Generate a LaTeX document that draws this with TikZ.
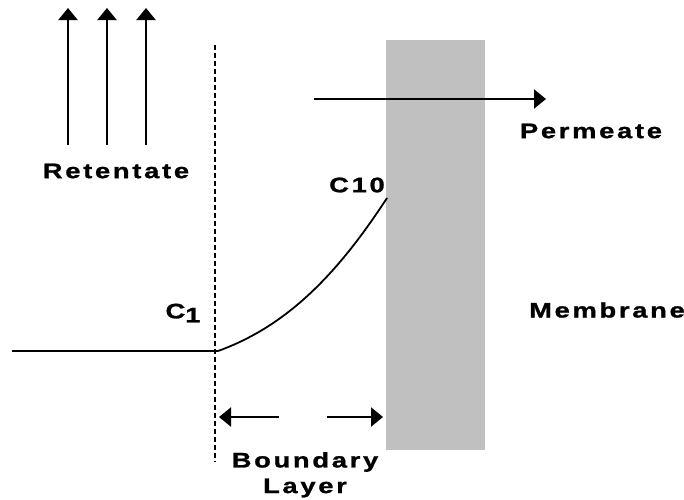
\documentclass[tikz,border=0pt]{standalone}
\usepackage{fontspec}
\setmainfont{Liberation Sans}[FakeStretch=1.3,LetterSpace=13,FakeBold=1.2]
\usetikzlibrary{arrows.meta}
\tikzset{
  lbl/.style={font=\bfseries\fontsize{21}{21}\selectfont, inner sep=0pt},
  flow/.style={line width=2.2pt, arrows={-Triangle[length=12pt,width=19pt]}},
  solidline/.style={line width=2.2pt}}
\begin{document}
\begin{tikzpicture}[x=1pt,y=-1pt]
\useasboundingbox (0,0) rectangle (684,499);
\fill[fill={rgb,255:red,192;green,192;blue,192}] (386,40) rectangle (485,450);
% retentate arrows
\coordinate (r1s) at (68,145); \coordinate (r1e) at (68,8);
\coordinate (r2s) at (107,145); \coordinate (r2e) at (107,8);
\coordinate (r3s) at (146,145); \coordinate (r3e) at (146,8);
\draw[flow] (r1s) -- (r1e);
\draw[flow] (r2s) -- (r2e);
\draw[flow] (r3s) -- (r3e);
\node[lbl] (ret) at (116,171) {Retentate};
% dotted line
\coordinate (dt) at (215,45); \coordinate (db) at (215,462);
\draw[line width=2.2pt, dash pattern=on 4.5pt off 3.5pt] (dt) -- (db);
% permeate
\coordinate (ps) at (314,99); \coordinate (pe) at (546,99);
\draw[flow] (ps) -- (pe);
\node[lbl] (perm) at (591,131) {Permeate};
\node[lbl] (mem) at (607,310) {Membrane};
% concentration profile
\coordinate (h0) at (12,351);
\coordinate (c1p) at (218,351);
\coordinate (c10p) at (387,198);
\draw[solidline] (h0) -- (c1p);
\draw[line width=1.8pt] (c1p) .. controls (290,325) and (340,270) .. (c10p);
\node[lbl] (c1) at (183,313) {C\raisebox{-4pt}{1}};
\node[lbl] (c10) at (357,185) {C10};
% boundary layer
\coordinate (bl1) at (279,417); \coordinate (bl2) at (219,417);
\coordinate (br1) at (327,417); \coordinate (br2) at (383,417);
\draw[flow] (bl1) -- (bl2);
\draw[flow] (br1) -- (br2);
\node[lbl] (bnd) at (305,462) {Boundary};
\node[lbl] (lay) at (305,488) {Layer};
\end{tikzpicture}
\end{document}
